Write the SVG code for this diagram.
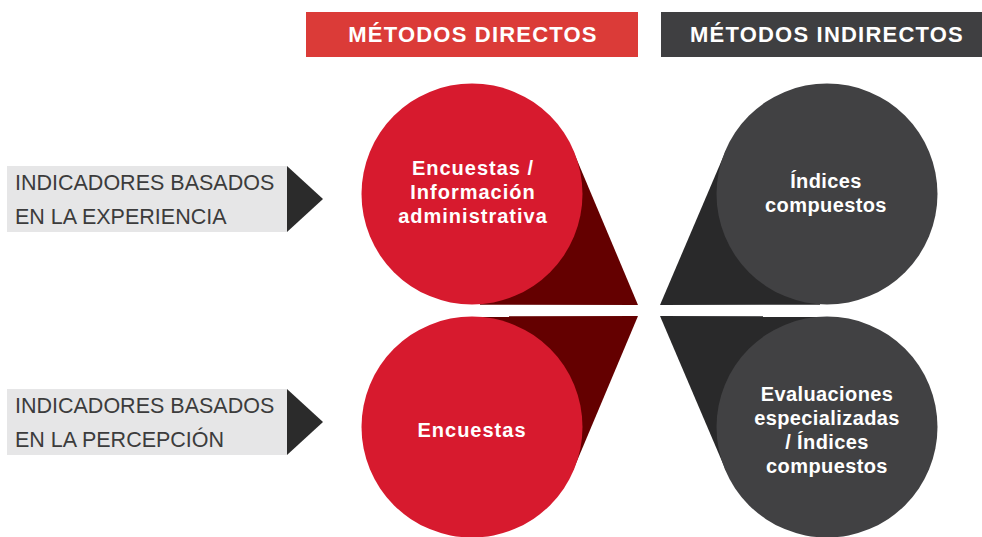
<svg xmlns="http://www.w3.org/2000/svg" width="982" height="537" viewBox="0 0 982 537">
<style>
.hdr{font-family:"Liberation Sans",Arial,sans-serif;font-weight:bold;font-size:22px;fill:#fff;letter-spacing:1.2px;text-anchor:middle}
.lbl{font-family:"Liberation Sans",Arial,sans-serif;font-size:21.5px;fill:#3c3c3c}
.lblbg{fill:#e6e6e7}
.tri{fill:#2b2b2b}
.ct{font-family:"Liberation Sans",Arial,sans-serif;font-weight:bold;font-size:20px;fill:#fff;text-anchor:middle}
.ctl{letter-spacing:1px}
.ctr{letter-spacing:0.4px}
.red{fill:#d71a2e}
.redsh{fill:#640000}
.dk{fill:#414143}
.dksh{fill:#29292a}
</style>
<rect width="982" height="537" fill="#fff"/>
<g id="hdr-directos">
<rect x="306" y="12" width="332" height="45" fill="#db3b38"/>
<text class="hdr" x="473" y="42">MÉTODOS DIRECTOS</text>
</g>
<g id="hdr-indirectos">
<rect x="661" y="12" width="321" height="45" fill="#3f3f41"/>
<text class="hdr" x="827" y="42">MÉTODOS INDIRECTOS</text>
</g>
<g id="lbl-experiencia">
<rect class="lblbg" x="7" y="166" width="280" height="66"/>
<polygon class="tri" points="287,166 323,199 287,232"/>
<text class="lbl" x="15" y="190">INDICADORES BASADOS</text>
<text class="lbl" x="15" y="224">EN LA EXPERIENCIA</text>
</g>
<g id="lbl-percepcion">
<rect class="lblbg" x="7" y="389" width="280" height="66"/>
<polygon class="tri" points="287,389 323,422 287,455"/>
<text class="lbl" x="15" y="413">INDICADORES BASADOS</text>
<text class="lbl" x="15" y="447">EN LA PERCEPCIÓN</text>
</g>
<g id="node-dir-exp">
<polygon class="redsh" points="638,305 573.4,151.4 472,194 480,304.7"/>
<circle class="red" cx="472" cy="194" r="110.5"/>
<text class="ct ctl" x="473" y="175">Encuestas /</text>
<text class="ct ctl" x="473" y="199">Información</text>
<text class="ct ctl" x="473" y="223">administrativa</text>
</g>
<g id="node-dir-per">
<polygon class="redsh" points="638,316 573.4,469.6 472,427 480,316.3"/>
<circle class="red" cx="472" cy="427" r="110.5"/>
<text class="ct ctl" x="472" y="437">Encuestas</text>
</g>
<g id="node-ind-exp">
<polygon class="dksh" points="660,305 725.8,150.8 827,194 820,304.7"/>
<circle class="dk" cx="827" cy="194" r="110.5"/>
<text class="ct ctr" x="826" y="188">Índices</text>
<text class="ct ctr" x="826" y="212">compuestos</text>
</g>
<g id="node-ind-per">
<polygon class="dksh" points="660,316 725.8,470.2 827,427 820,316.3"/>
<circle class="dk" cx="827" cy="427" r="110.5"/>
<text class="ct ctr" x="827" y="401">Evaluaciones</text>
<text class="ct ctr" x="827" y="425">especializadas</text>
<text class="ct ctr" x="827" y="449">/ Índices</text>
<text class="ct ctr" x="827" y="473">compuestos</text>
</g>
<g id="connectors"></g>
</svg>
